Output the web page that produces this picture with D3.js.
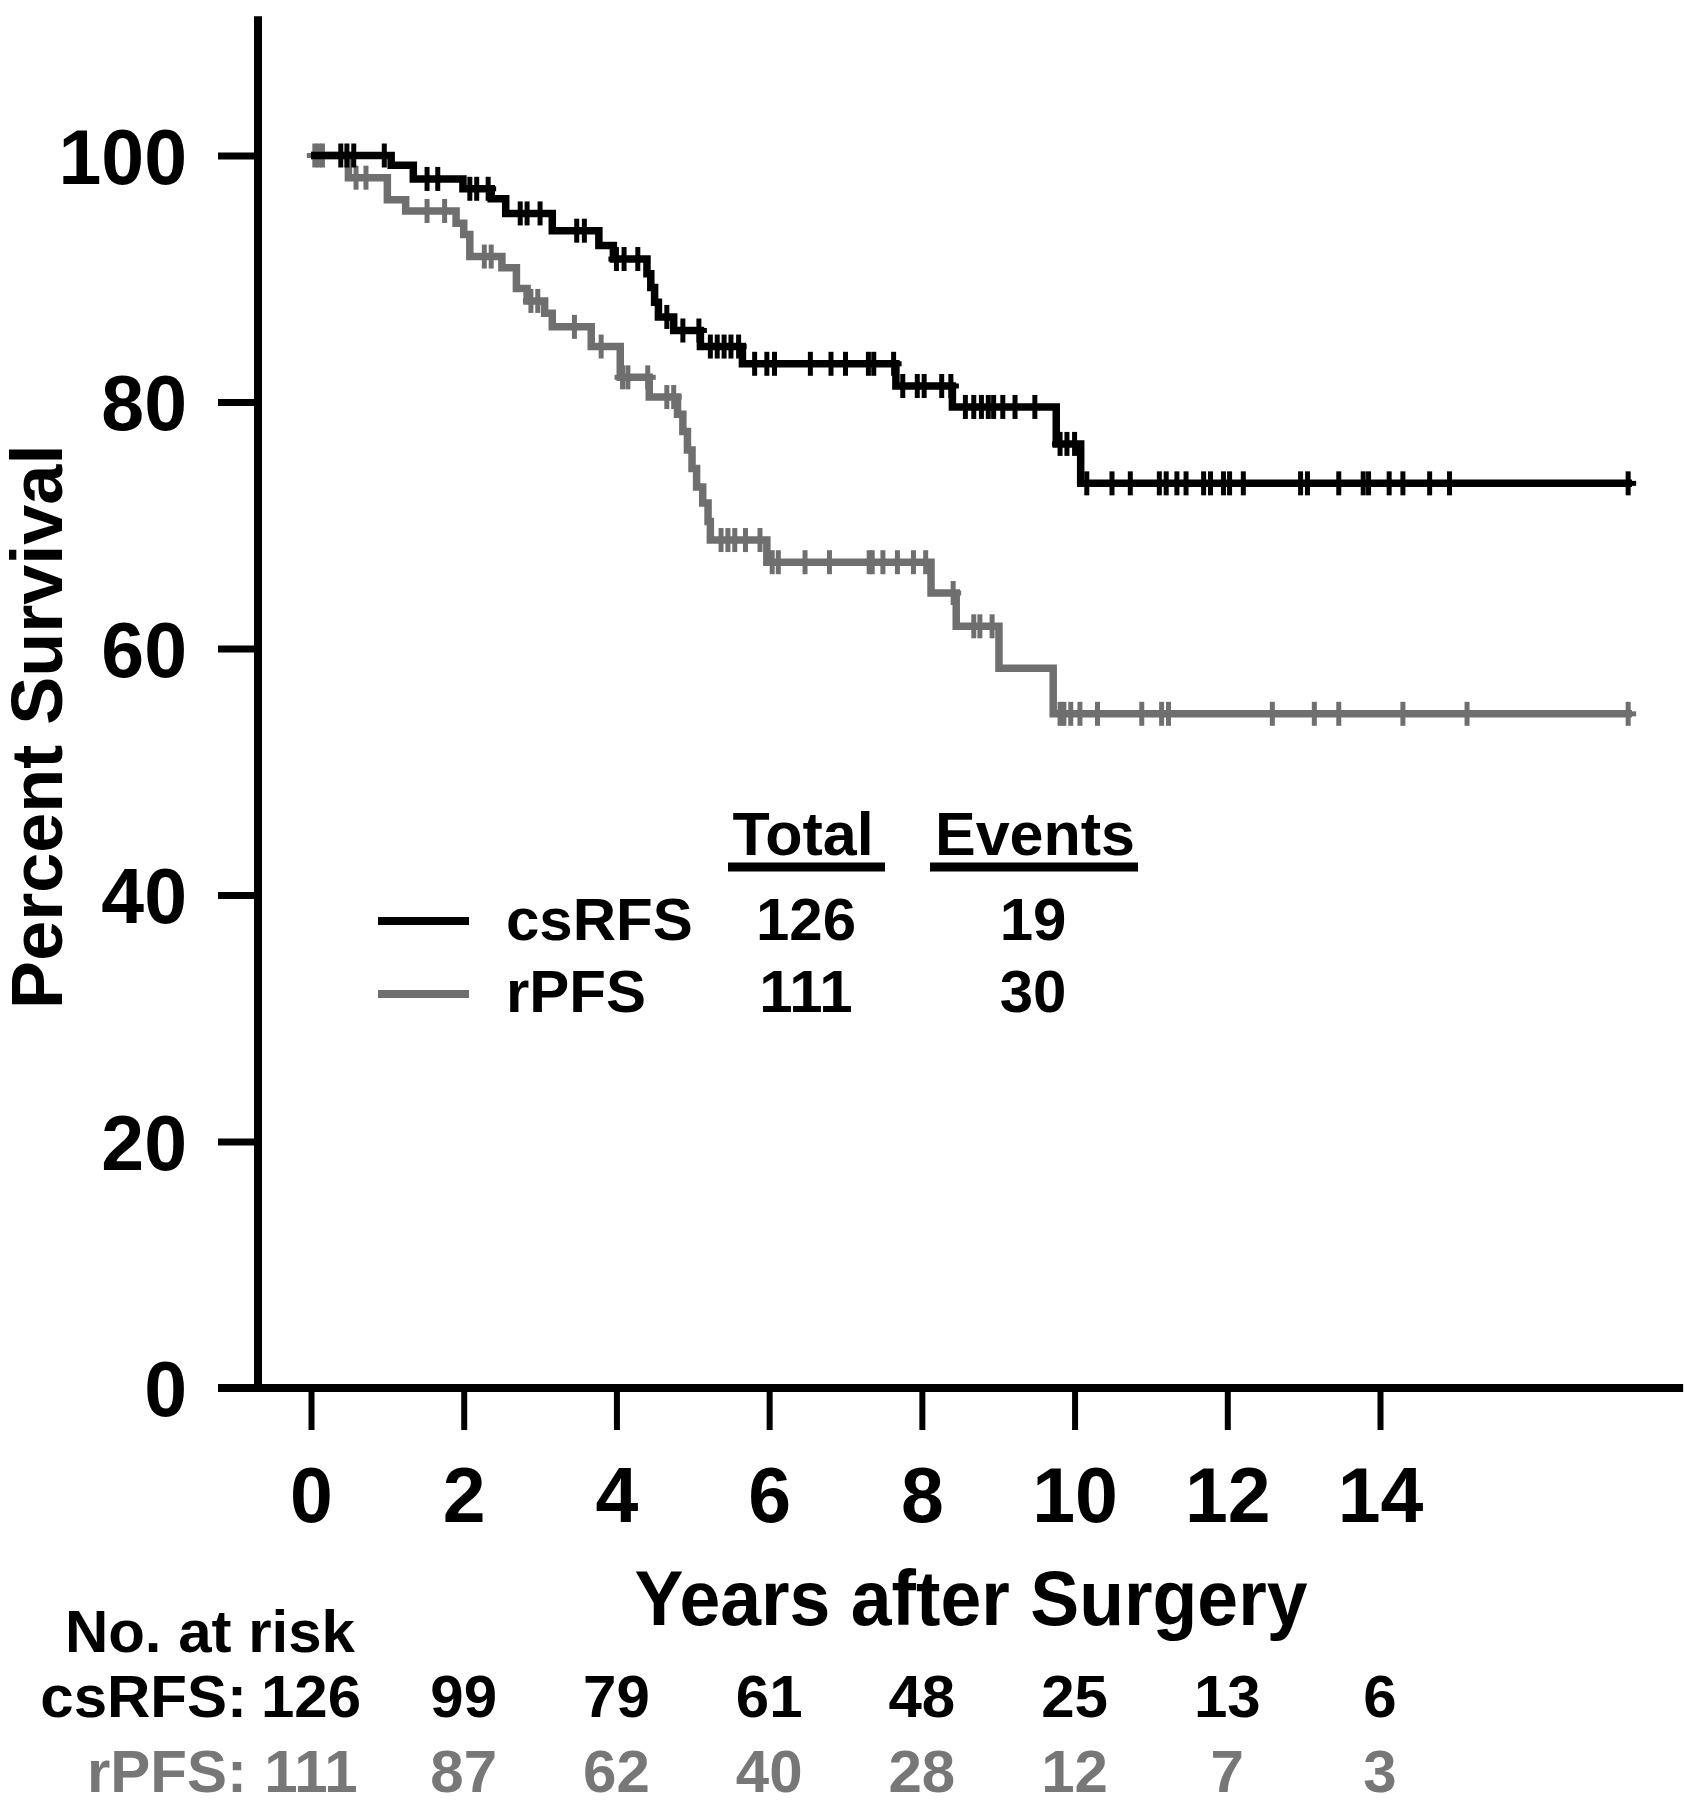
<!DOCTYPE html>
<html>
<head>
<meta charset="utf-8">
<script src="https://cdn.jsdelivr.net/npm/d3@7"></script>
<style>
  html, body { margin: 0; padding: 0; background: #fff; }
  svg text { font-family: "Liberation Sans", Arial, Helvetica, sans-serif; font-weight: bold; }
</style>
</head>
<body>
<svg id="chart" width="1694" height="1800"></svg>
<script>
// ---------- DATA ----------
const seriesNames = ["csRFS", "rPFS"];
const seriesTotals = [126, 111];
const seriesEvents = [19, 30];

// Kaplan-Meier steps: [time (years), percent surviving after the step]
const csrfsSteps = [
  [0, 100], [1.05, 99.2], [1.34, 98.1], [1.99, 97.3], [2.36, 96.5], [2.55, 95.3],
  [3.16, 93.9], [3.77, 92.7], [3.96, 91.6], [4.40, 90.4], [4.45, 89.3], [4.50, 88.1],
  [4.55, 86.9], [4.75, 85.8], [5.10, 84.5], [5.65, 83.1], [7.66, 81.3], [8.40, 79.6],
  [9.76, 76.6], [10.08, 73.4]
];
const csrfsEnd = 17.3;
const csrfsCensored = [
  0.39, 0.47, 0.56, 0.96, 1.52, 1.66, 2.08, 2.17, 2.32, 2.74, 2.83, 3.0, 3.48, 3.58,
  4.0, 4.1, 4.28, 4.66, 4.87, 5.08, 5.23, 5.32, 5.41, 5.5, 5.6, 5.81, 5.97, 6.07,
  6.54, 6.81, 7.0, 7.3, 7.37, 7.63, 7.75, 7.94, 8.03, 8.26, 8.38, 8.57, 8.68, 8.78,
  8.87, 8.94, 9.06, 9.22, 9.48, 9.81, 9.9, 10.0, 10.16, 10.49, 10.73, 11.11, 11.2,
  11.34, 11.46, 11.69, 11.78, 11.95, 12.03, 12.21, 12.96, 13.05, 13.46, 13.78, 13.85,
  14.12, 14.3, 14.65, 14.91, 17.25
];

const rpfsSteps = [
  [0, 100], [0.49, 98.2], [1.0, 96.4], [1.24, 95.5], [1.9, 94.5], [2.0, 93.6],
  [2.08, 91.8], [2.5, 90.9], [2.69, 89.2], [2.83, 88.2], [3.06, 87.2], [3.16, 86.1],
  [3.67, 84.5], [4.05, 82.0], [4.43, 80.4], [4.8, 79.0], [4.87, 77.6], [4.93, 76.1],
  [4.99, 74.6], [5.05, 73.1], [5.13, 71.8], [5.2, 70.3], [5.23, 68.8], [5.97, 67.0],
  [8.12, 64.5], [8.45, 61.8], [9.01, 58.4], [9.72, 54.7]
];
const rpfsEnd = 17.3;
const rpfsCensored = [
  0.05, 0.1, 0.15, 0.59, 0.72, 1.52, 1.75, 2.27, 2.36, 2.88, 2.97, 3.45, 3.8, 4.08,
  4.15, 4.41, 4.66, 4.75, 5.37, 5.46, 5.55, 5.69, 5.88, 6.04, 6.12, 6.47, 6.79, 7.31,
  7.35, 7.49, 7.68, 7.89, 8.05, 8.41, 8.68, 8.76, 8.92, 9.81, 9.86, 9.95, 10.07, 10.3,
  10.88, 11.14, 11.23, 12.59, 13.14, 13.46, 14.3, 15.14, 17.25
];

const xTicks = [0, 2, 4, 6, 8, 10, 12, 14];
const yTicks = [0, 20, 40, 60, 80, 100];
const riskTimes = [0, 2, 4, 6, 8, 10, 12, 14];
const csrfsAtRisk = [126, 99, 79, 61, 48, 25, 13, 6];
const rpfsAtRisk = [111, 87, 62, 40, 28, 12, 7, 3];

// ---------- DRAW ----------
const BLACK = "#000", GREY = "#6f6f6f", GREYTXT = "#777";
const svg = d3.select("#chart");
const x = d3.scaleLinear().domain([0, 14]).range([311, 1380]);
const y = d3.scaleLinear().domain([0, 100]).range([1388, 155.5]);

// Y axis
const yAxisX = 258;
const gy = svg.append("g").attr("transform", `translate(${yAxisX},0)`)
  .call(d3.axisLeft(y).tickValues(yTicks).tickSize(40).tickSizeOuter(0).tickPadding(31));
gy.select(".domain").remove();
gy.selectAll(".tick line").attr("stroke", BLACK).attr("stroke-width", 7);
gy.selectAll(".tick text").attr("fill", BLACK).attr("font-size", 77).attr("dy", "0.36em");
svg.append("line").attr("x1", yAxisX).attr("x2", yAxisX)
  .attr("y1", y(111.3)).attr("y2", y(0) + 3.5).attr("stroke", BLACK).attr("stroke-width", 8);

// X axis
const gx = svg.append("g").attr("transform", `translate(0,${y(0)})`)
  .call(d3.axisBottom(x).tickValues(xTicks).tickSize(42).tickSizeOuter(0).tickPadding(37));
gx.select(".domain").remove();
gx.selectAll(".tick line").attr("stroke", BLACK).attr("stroke-width", 6);
gx.selectAll(".tick text").attr("fill", BLACK).attr("font-size", 77);
svg.append("line").attr("x1", 218).attr("x2", x(17.97))
  .attr("y1", y(0)).attr("y2", y(0)).attr("stroke", BLACK).attr("stroke-width", 8);

// Axis titles
svg.append("text").attr("transform", `translate(62,${(y(100) + y(0)) / 2 - 45}) rotate(-90)`)
  .attr("text-anchor", "middle").attr("font-size", 72).attr("fill", BLACK).text("Percent Survival");
svg.append("text").attr("x", 971).attr("y", 1625).attr("text-anchor", "middle")
  .attr("font-size", 78).attr("textLength", 673).attr("lengthAdjust", "spacingAndGlyphs")
  .attr("fill", BLACK).text("Years after Surgery");

// KM curves
function stepValue(steps, t) {
  let v = steps[0][1];
  for (const s of steps) { if (s[0] <= t) v = s[1]; }
  return v;
}
const line = d3.line().x(d => x(d[0])).y(d => y(d[1])).curve(d3.curveStepAfter);
function drawCurve(steps, end, censored, color) {
  const pts = steps.concat([[end, steps[steps.length - 1][1]]]);
  svg.append("path").datum(pts).attr("d", line).attr("fill", "none")
    .attr("stroke", color).attr("stroke-width", 7.5).attr("stroke-linejoin", "miter");
  const g = svg.append("g").attr("stroke", color).attr("stroke-width", 5);
  censored.forEach(t => {
    const cx = x(t), cy = y(stepValue(steps, t));
    g.append("line").attr("x1", cx).attr("x2", cx).attr("y1", cy - 12).attr("y2", cy + 12);
    g.append("line").attr("x1", cx - 8).attr("x2", cx + 8).attr("y1", cy).attr("y2", cy);
  });
}
drawCurve(rpfsSteps, rpfsEnd, rpfsCensored, GREY);
drawCurve(csrfsSteps, csrfsEnd, csrfsCensored, BLACK);

// Legend table
const legColors = [BLACK, GREY];
const legBase = [940, 1012];
const legLineY = [921, 994];
svg.append("text").attr("x", 803).attr("y", 855).attr("text-anchor", "middle")
  .attr("font-size", 61).attr("fill", BLACK).text("Total");
svg.append("text").attr("x", 1035).attr("y", 855).attr("text-anchor", "middle")
  .attr("font-size", 61).attr("fill", BLACK).text("Events");
svg.append("line").attr("x1", 728).attr("x2", 885).attr("y1", 867).attr("y2", 867)
  .attr("stroke", BLACK).attr("stroke-width", 9);
svg.append("line").attr("x1", 930).attr("x2", 1138).attr("y1", 867).attr("y2", 867)
  .attr("stroke", BLACK).attr("stroke-width", 9);
seriesNames.forEach((name, i) => {
  svg.append("line").attr("x1", 378).attr("x2", 469).attr("y1", legLineY[i]).attr("y2", legLineY[i])
    .attr("stroke", legColors[i]).attr("stroke-width", 8);
  svg.append("text").attr("x", 506).attr("y", legBase[i]).attr("font-size", 60)
    .attr("fill", BLACK).text(name);
  svg.append("text").attr("x", 806).attr("y", legBase[i]).attr("text-anchor", "middle")
    .attr("font-size", 60).attr("fill", BLACK).text(seriesTotals[i]);
  svg.append("text").attr("x", 1033).attr("y", legBase[i]).attr("text-anchor", "middle")
    .attr("font-size", 60).attr("fill", BLACK).text(seriesEvents[i]);
});

// Number at risk table
svg.append("text").attr("x", 355).attr("y", 1652).attr("text-anchor", "end")
  .attr("font-size", 60).attr("fill", BLACK).text("No. at risk");
const riskRows = [
  { label: "csRFS:", values: csrfsAtRisk, color: BLACK, base: 1717 },
  { label: "rPFS:", values: rpfsAtRisk, color: GREYTXT, base: 1792 }
];
riskRows.forEach(r => {
  svg.append("text").attr("x", 247).attr("y", r.base).attr("text-anchor", "end")
    .attr("font-size", 60).attr("fill", r.color).text(r.label);
  r.values.forEach((v, i) => {
    svg.append("text").attr("x", x(riskTimes[i])).attr("y", r.base).attr("text-anchor", "middle")
      .attr("font-size", 60).attr("fill", r.color).text(v);
  });
});
</script>
</body>
</html>
